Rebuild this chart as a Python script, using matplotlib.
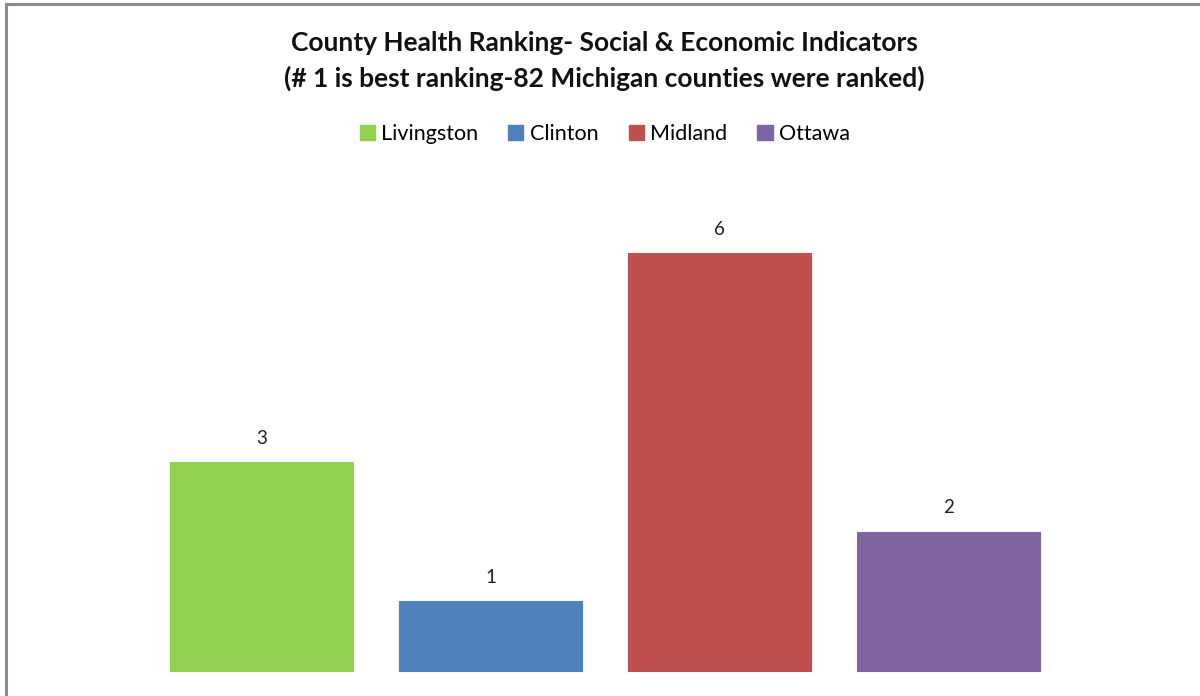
import matplotlib
matplotlib.use("Agg")
import matplotlib.pyplot as plt
from matplotlib.patches import Patch, Rectangle

counties = ["Livingston", "Clinton", "Midland", "Ottawa"]
ranks = [3, 1, 6, 2]
colors = ["#92D050", "#4F81BD", "#C0504D", "#8064A2"]
title_lines = ["County Health Ranking- Social & Economic Indicators",
               "(# 1 is best ranking-82 Michigan counties were ranked)"]

plt.rcParams["font.family"] = ["Lato", "DejaVu Sans"]

fig = plt.figure(figsize=(12, 6.96), dpi=100)
ax = fig.add_axes([0, 0, 1, 1])
ax.set_xlim(-1.142, 4.098)
ax.set_ylim(-0.36, 9.64)
ax.axis("off")

xs = list(range(len(counties)))
ax.bar(xs, ranks, width=0.8, color=colors, edgecolor=colors, linewidth=0.8)
for x, v in zip(xs, ranks):
    ax.text(x, v + 0.22, str(v), ha="center", va="bottom", fontsize=13.5, color="#222222")

# chart frame
fig.patches.append(Rectangle((0.005, -0.1), 1.2, 1.094, transform=fig.transFigure,
                             fill=False, edgecolor="#8c8c8c", linewidth=2.2))

fig.text(0.504, 0.938, title_lines[0], ha="center", va="center",
         fontsize=19, fontweight="bold", color="#111111")
fig.text(0.504, 0.887, title_lines[1], ha="center", va="center",
         fontsize=19, fontweight="bold", color="#111111")

handles = [Patch(facecolor=c, edgecolor=c) for c in colors]
fig.legend(handles, counties, loc="center", bbox_to_anchor=(0.504, 0.807), ncol=4,
           frameon=False, fontsize=15.5, handlelength=0.7, handleheight=0.7,
           handletextpad=0.3, columnspacing=1.4)

fig.savefig("out.png", dpi=100)
